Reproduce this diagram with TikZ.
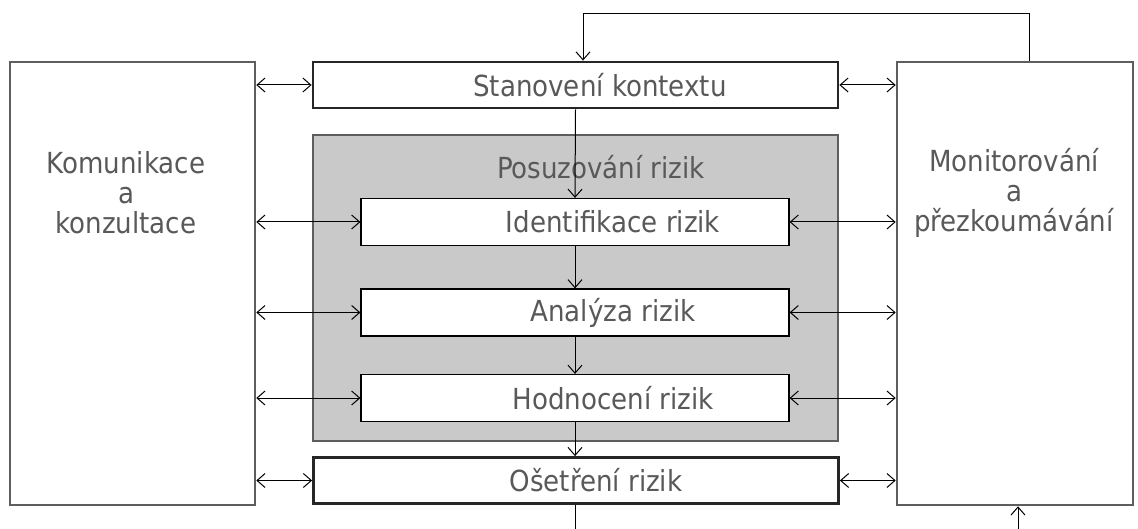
\documentclass[tikz,border=0pt]{standalone}
\usepackage{fontspec}
\setmainfont{DejaVu Sans Condensed}
\usetikzlibrary{arrows.meta}
\definecolor{txtgray}{HTML}{595959}
\definecolor{boxgray}{HTML}{5E5E5E}
\definecolor{fillgray}{HTML}{C9C9C9}

\begin{document}
\begin{tikzpicture}[x=1pt, y=-1pt, >={Straight Barb[length=8pt,width=14pt]},
  side/.style={draw=boxgray, line width=2.6pt, fill=white, inner sep=0pt},
  mainbox/.style={draw=black!85, line width=2.8pt, fill=white, inner sep=0pt, minimum width=525pt, minimum height=46pt},
  subbox/.style={draw=black, line width=1.2pt, fill=white, inner sep=0pt, minimum width=428pt, minimum height=47pt},
  lbl/.style={text=txtgray, font=\fontsize{29}{30}\selectfont, inner sep=0pt, align=center},
  link/.style={line width=1pt}]
\useasboundingbox (0,0) rectangle (1138,529);
\fill[white] (0,0) rectangle (1138,529);

\node[side, minimum width=245pt, minimum height=443pt] (kom) at (132.5,283.5) {};
\node[side, minimum width=236pt, minimum height=443pt] (mon) at (1015,283.5) {};
\node[draw=boxgray, line width=2.8pt, fill=fillgray, minimum width=525pt, minimum height=306pt, inner sep=0pt] (pos) at (575.5,288) {};

\node[mainbox] (ctx) at (575.5,85) {};
\node[subbox] (idf) at (575,222) {};
\node[subbox] (ana) at (575,312.5) {};
\node[subbox] (hod) at (575,398) {};
\node[mainbox] (ose) at (576,480.5) {};

\node[lbl] (komt) at (126,193) {Komunikace\\a\\konzultace};
\node[lbl] (mont) at (1014,193) {Monitorování\\a\\přezkoumávání};
\node[lbl] (ctxt) at (600,85) {Stanovení kontextu};
\node[lbl] (post) at (601,167) {Posuzování rizik};
\node[lbl] (idft) at (613,222) {Identifikace rizik};
\node[lbl] (anat) at (613,312.5) {Analýza rizik};
\node[lbl] (hodt) at (613,398) {Hodnocení rizik};
\node[lbl] (oset) at (596,480.5) {Ošetření rizik};

% vertical flow
\draw[link,->] (ctx.south) -- (idf.north);
\draw[link,->] (idf.south) -- (ana.north);
\draw[link,->] (ana.south) -- (hod.north);
\draw[link,->] (hod.south) -- (ose.north -| hod.south);
\coordinate (osebot) at (575,529);
\draw[link] (ose.south -| osebot) -- (osebot);

% feedback over the top
\coordinate (fbr) at (1029,14);
\coordinate (fbl) at (583,14);
\draw[link] (mon.north -| fbr) -- (fbr) -- (fbl);
\draw[link,->] (fbl) -- (ctx.north -| fbl);
\coordinate (monin) at (1018,529);
\draw[link,->] (monin) -- (mon.south -| monin);

% communication and monitoring
\foreach \b in {ctx,idf,ana,hod,ose} {
  \draw[link,<->] (kom.east |- \b.west) -- (\b.west);
  \draw[link,<->] (\b.east) -- (mon.west |- \b.east);
}
\end{tikzpicture}
\end{document}
